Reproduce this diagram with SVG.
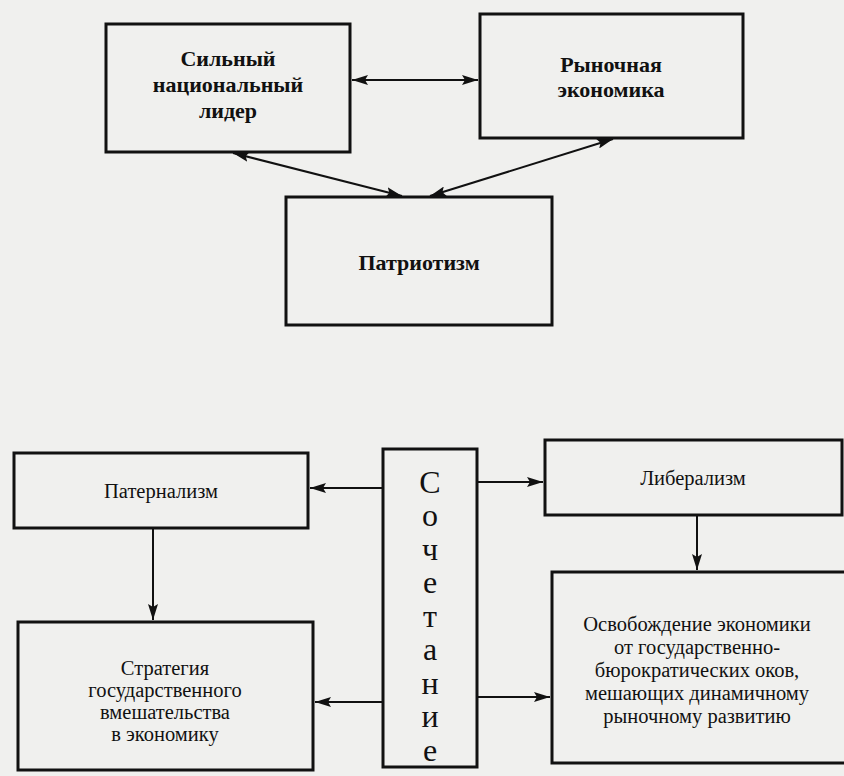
<svg xmlns="http://www.w3.org/2000/svg" width="844" height="776" viewBox="0 0 844 776">
<style>
.box{fill:none;stroke:#111;stroke-width:3}
.ln{stroke:#111;stroke-width:2;fill:none}
text{font-family:"Liberation Serif","Times New Roman","DejaVu Serif",serif;fill:#111;text-anchor:middle}
.b{font-weight:bold;font-size:22px}
.r{font-size:20.5px}
.v{font-size:32px}
</style>
<defs>
<marker id="ah" viewBox="0 0 16 10" refX="16" refY="5" markerWidth="16" markerHeight="10" markerUnits="userSpaceOnUse" orient="auto-start-reverse">
<path d="M0,0 L16,5 L0,10 L3,5 z" fill="#111"/>
</marker>
</defs>
<rect width="844" height="776" fill="#f0f0ee"/>
<g id="connectors">
<line class="ln" x1="352" y1="80" x2="478" y2="80" marker-start="url(#ah)" marker-end="url(#ah)"/>
<line class="ln" x1="233" y1="153" x2="402" y2="196" marker-start="url(#ah)" marker-end="url(#ah)"/>
<line class="ln" x1="613" y1="139" x2="430" y2="196" marker-start="url(#ah)" marker-end="url(#ah)"/>
<line class="ln" x1="382" y1="488" x2="310" y2="488" marker-end="url(#ah)"/>
<line class="ln" x1="153" y1="529" x2="153" y2="620" marker-end="url(#ah)"/>
<line class="ln" x1="384" y1="702" x2="315" y2="702" marker-end="url(#ah)"/>
<line class="ln" x1="478" y1="482" x2="543" y2="482" marker-end="url(#ah)"/>
<line class="ln" x1="697" y1="516" x2="697" y2="570" marker-end="url(#ah)"/>
<line class="ln" x1="478" y1="697" x2="550" y2="697" marker-end="url(#ah)"/>
</g>
<g id="leader">
<rect class="box" x="106" y="24" width="244" height="128"/>
<text class="b" x="228" y="66">Сильный</text>
<text class="b" x="228" y="92">национальный</text>
<text class="b" x="228" y="118">лидер</text>
</g>
<g id="market">
<rect class="box" x="480" y="14" width="263" height="124"/>
<text class="b" x="611" y="72">Рыночная</text>
<text class="b" x="611" y="97">экономика</text>
</g>
<g id="patriotism">
<rect class="box" x="286" y="197" width="266" height="128"/>
<text class="b" x="419" y="270">Патриотизм</text>
</g>
<g id="paternalism">
<rect class="box" x="14" y="453" width="294" height="75"/>
<text class="r" x="161" y="498">Патернализм</text>
</g>
<g id="strategy">
<rect class="box" x="18" y="622" width="295" height="148"/>
<text class="r" x="165" y="675">Стратегия</text>
<text class="r" x="165" y="697">государственного</text>
<text class="r" x="165" y="719">вмешательства</text>
<text class="r" x="165" y="741">в экономику</text>
</g>
<g id="combination">
<rect class="box" x="383" y="449" width="94" height="318"/>
<text class="v" x="430" y="493">С</text>
<text class="v" x="430" y="526">о</text>
<text class="v" x="430" y="560">ч</text>
<text class="v" x="430" y="593">е</text>
<text class="v" x="430" y="627">т</text>
<text class="v" x="430" y="660">а</text>
<text class="v" x="430" y="694">н</text>
<text class="v" x="430" y="727">и</text>
<text class="v" x="430" y="761">е</text>
</g>
<g id="liberalism">
<rect class="box" x="545" y="440" width="297" height="75"/>
<text class="r" x="693" y="485">Либерализм</text>
</g>
<g id="liberation">
<rect class="box" x="552" y="572" width="300" height="191"/>
<text class="r" x="697" y="631">Освобождение экономики</text>
<text class="r" x="697" y="654">от государственно-</text>
<text class="r" x="697" y="677">бюрократических оков,</text>
<text class="r" x="697" y="700">мешающих динамичному</text>
<text class="r" x="697" y="723">рыночному развитию</text>
</g>
</svg>
